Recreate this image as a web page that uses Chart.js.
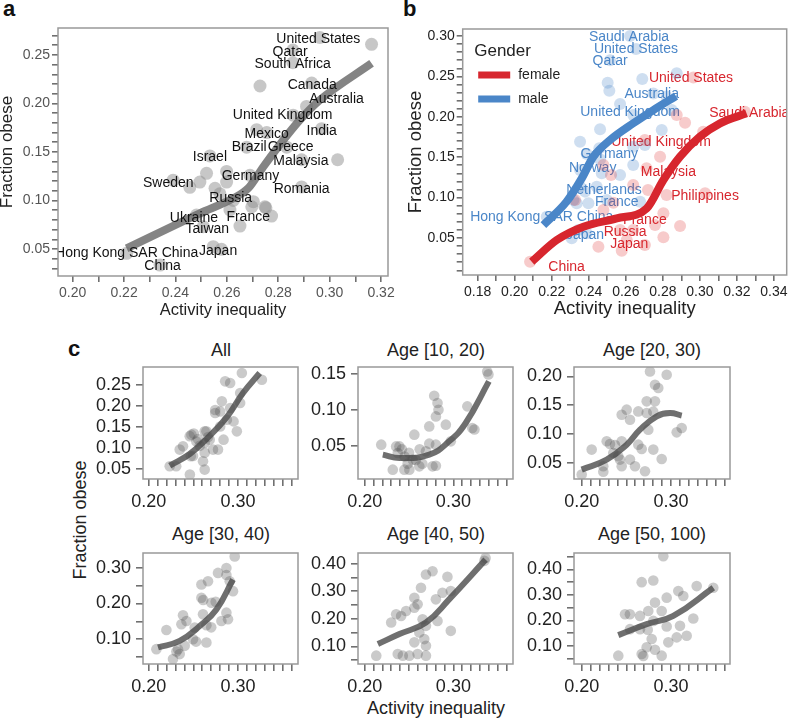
<!DOCTYPE html>
<html>
<head>
<meta charset="utf-8">
<script src="https://cdn.jsdelivr.net/npm/chart.js@4.4.1/dist/chart.umd.min.js"></script>
<style>
  body { margin: 0; width: 800px; height: 720px; position: relative; overflow: hidden; background: #fff;
         font-family: "Liberation Sans", Arial, Helvetica, sans-serif; color: #222; }
  .box { position: absolute; }
  .txt { position: absolute; white-space: nowrap; line-height: 18px; font-size: 18px; }
  .ctr { transform: translateX(-50%); }
  .tag { position: absolute; font-weight: bold; font-size: 22px; line-height: 22px; color: #111; }
</style>
</head>
<body>
<div class="tag" style="left:3px;top:-2px">a</div>
<div class="tag" style="left:403px;top:-2px">b</div>
<div class="tag" style="left:68px;top:338px">c</div>

<div class="txt ctr" style="left:221px;top:341px">All</div>
<div class="txt ctr" style="left:436px;top:341px">Age [10, 20)</div>
<div class="txt ctr" style="left:652px;top:341px">Age [20, 30)</div>
<div class="txt ctr" style="left:221px;top:525px">Age [30, 40)</div>
<div class="txt ctr" style="left:436px;top:525px">Age [40, 50)</div>
<div class="txt ctr" style="left:652px;top:525px">Age [50, 100)</div>
<div class="txt ctr" style="left:436px;top:699px">Activity inequality</div>
<div class="txt" style="left:80px;top:511px;transform:translateX(-50%) rotate(-90deg)">Fraction obese</div>

<script>
// ---- panel a: countries, overall ----
const aPoints = [[0.3163,0.261],[0.2962,0.268],[0.2857,0.255],[0.2857,0.242],[0.2729,0.218],[0.293,0.221],
  [0.291,0.197],[0.2858,0.188],[0.2969,0.174],[0.2716,0.173],[0.2755,0.170],[0.2833,0.155],[0.2677,0.155],
  [0.2891,0.142],[0.3031,0.142],[0.2534,0.146],[0.2521,0.128],[0.2599,0.130],[0.269,0.126],[0.2495,0.119],
  [0.2456,0.1136],[0.2391,0.121],[0.2554,0.1126],[0.2599,0.119],[0.2573,0.107],[0.2625,0.100],[0.2891,0.114],
  [0.2703,0.0988],[0.2697,0.0936],[0.2748,0.0936],[0.2752,0.0925],[0.2774,0.084],[0.2612,0.0902],[0.2482,0.085],
  [0.2651,0.0737],[0.2508,0.073],[0.2547,0.0524],[0.2579,0.0497],[0.221,0.0456],[0.234,0.0335]];
const aTrend = [[0.221,0.0507],[0.2495,0.0868],[0.2625,0.1023],[0.2683,0.1126],[0.2742,0.1348],[0.282,0.1624],
  [0.2884,0.183],[0.2962,0.2036],[0.3163,0.2414]];
const aNames = ["United States","Qatar","South Africa","Canada","Australia","United Kingdom","Mexico","India",
  "Brazil","Greece","Israel","Malaysia","Germany","Sweden","Romania","Russia","Ukraine","France","Taiwan",
  "Hong Kong SAR China","Japan","China"];
const aNameAt = [[0.2956,0.2665],[0.2846,0.2528],[0.2856,0.2404],[0.2932,0.2187],[0.3027,0.2049],[0.2817,0.1882],
  [0.2755,0.1685],[0.2969,0.1712],[0.2687,0.1554],[0.2848,0.1554],[0.2534,0.1443],[0.2888,0.1409],[0.2692,0.1248],
  [0.2372,0.1183],[0.2891,0.1117],[0.2615,0.1028],[0.2472,0.0822],[0.2683,0.0826],[0.2524,0.0704],[0.221,0.0456],
  [0.2566,0.0483],[0.235,0.0326]];

// ---- panel b: by gender ----
const bMale = [[0.2623,0.30],[0.2655,0.284],[0.2515,0.27],[0.2502,0.2422],[0.2511,0.2323],[0.2689,0.2468],
  [0.2875,0.2538],[0.2749,0.229],[0.282,0.225],[0.2569,0.2158],[0.2848,0.2084],[0.264,0.2022],[0.2461,0.1845],
  [0.2794,0.1837],[0.2353,0.1692],[0.2457,0.161],[0.264,0.163],[0.2703,0.165],[0.2389,0.154],[0.2461,0.1474],
  [0.264,0.1403],[0.2353,0.1342],[0.247,0.130],[0.2569,0.128],[0.2353,0.1135],[0.2443,0.1135],[0.2317,0.097],
  [0.2335,0.093],[0.2398,0.093],[0.2497,0.097],[0.2173,0.0764],[0.2344,0.06],[0.2308,0.0496],[0.2389,0.0558],
  [0.2677,0.095],[0.238,0.1074]];
const bFemale = [[0.2965,0.2488],[0.3243,0.2064],[0.292,0.1927],[0.3018,0.1816],[0.2703,0.1713],[0.2785,0.1507],
  [0.252,0.128],[0.2712,0.1362],[0.2479,0.1403],[0.264,0.1156],[0.272,0.1094],[0.282,0.1032],[0.3028,0.1053],
  [0.2533,0.0937],[0.2479,0.0847],[0.2803,0.0805],[0.2758,0.0661],[0.2893,0.0649],[0.2569,0.0599],[0.264,0.0599],
  [0.2803,0.0508],[0.2452,0.0393],[0.2578,0.0343],[0.2605,0.0475],[0.2703,0.0413],[0.2083,0.0207],[0.2326,0.097],
  [0.2875,0.2022]];
const bMaleTrend = [[0.2155,0.066],[0.228,0.095],[0.2362,0.1238],[0.2425,0.1507],[0.2515,0.1713],[0.264,0.192],
  [0.2749,0.2084],[0.2871,0.2257]];
const bFemaleTrend = [[0.2092,0.0207],[0.2227,0.0475],[0.2371,0.064],[0.2551,0.0743],[0.2713,0.0867],[0.2803,0.1218],
  [0.2893,0.1507],[0.30,0.1754],[0.3109,0.1919],[0.3252,0.2043]];
const bMaleNames = ["Saudi Arabia","United States","Qatar","Australia","United Kingdom","Germany","Norway",
  "Netherlands","France","Hong Kong SAR China","Japan"];
const bMaleNameAt = [[0.2617,0.2992],[0.2655,0.2839],[0.2515,0.2691],[0.274,0.2278],[0.2623,0.2064],[0.2511,0.154],
  [0.2421,0.137],[0.2482,0.1094],[0.2551,0.095],[0.2146,0.0752],[0.238,0.0537]];
const bFemaleNames = ["United States","Saudi Arabia","United Kingdom","Malaysia","Philippines","France","Russia",
  "Japan","China"];
const bFemaleNameAt = [[0.2952,0.2476],[0.3267,0.2043],[0.279,0.1692],[0.283,0.1313],[0.3028,0.102],[0.2703,0.0723],
  [0.2596,0.0578],[0.2619,0.0422],[0.228,0.0145]];
const genders = ["female","male"];

// ---- panel c: by age group ----
const allPoints = [[0.2235,0.0564],[0.2308,0.0564],[0.2478,0.1315],[0.2459,0.128],[0.2505,0.134],[0.2608,0.0682],
  [0.2471,0.0801],[0.2461,0.0367],[0.2646,0.1394],[0.2683,0.1197],[0.2776,0.096],[0.272,0.096],[0.2627,0.1118],
  [0.28,0.151],[0.2838,0.1197],[0.2744,0.183],[0.2819,0.2105],[0.2856,0.258],[0.2912,0.254],[0.295,0.163],
  [0.2987,0.1394],[0.2875,0.167],[0.2912,0.1948],[0.3024,0.2303],[0.3043,0.2777],[0.3267,0.2618],[0.3024,0.2066],
  [0.2627,0.0884],[0.2627,0.0486],[0.2384,0.1038],[0.2347,0.096],[0.2496,0.0809],[0.2627,0.1394],[0.28,0.1867],
  [0.2744,0.19],[0.2552,0.121],[0.2571,0.105],[0.2665,0.126],[0.2534,0.115]];
const allTrend = [[0.2235,0.058],[0.2459,0.0856],[0.2646,0.121],[0.287,0.172],[0.3056,0.2303],[0.3243,0.2777]];
const age10Points = [[0.3381,0.1532],[0.3395,0.149],[0.2784,0.1194],[0.2821,0.1093],[0.2832,0.10],[0.2803,0.0907],
  [0.256,0.0653],[0.2728,0.0768],[0.2915,0.0792],[0.2971,0.056],[0.3157,0.1046],[0.3213,0.0746],[0.3237,0.0725],
  [0.2803,0.0514],[0.2728,0.0528],[0.2691,0.0421],[0.2765,0.0213],[0.2803,0.0222],[0.2541,0.0306],[0.2616,0.0213],
  [0.2448,0.0167],[0.2504,0.0167],[0.2392,0.049],[0.2187,0.0514],[0.2355,0.049],[0.2317,0.0167],[0.2373,0.0399],
  [0.245,0.035],[0.25,0.04],[0.242,0.045],[0.2577,0.03],[0.262,0.045],[0.2485,0.025],[0.265,0.025]];
const age10Trend = [[0.2205,0.0375],[0.2392,0.0329],[0.2728,0.0375],[0.2952,0.056],[0.3139,0.0815],[0.34,0.1393]];
const age20Points = [[0.2765,0.2087],[0.2952,0.203],[0.2821,0.1856],[0.2858,0.18],[0.2728,0.1568],[0.2821,0.1568],
  [0.2504,0.1424],[0.2448,0.1337],[0.2541,0.125],[0.2634,0.1394],[0.2728,0.1366],[0.2802,0.139],[0.2746,0.1078],
  [0.3064,0.1031],[0.312,0.1107],[0.2112,0.0732],[0.228,0.0876],[0.2317,0.083],[0.2373,0.081],[0.2448,0.0876],
  [0.2634,0.0818],[0.2672,0.0744],[0.2802,0.0732],[0.2896,0.057],[0.2354,0.0674],[0.241,0.0616],[0.2429,0.0559],
  [0.2541,0.0559],[0.2448,0.0443],[0.2597,0.0443],[0.2709,0.0356],[0.2242,0.0443],[0.2242,0.035],[0.20,0.03]];
const age20Trend = [[0.20,0.0386],[0.228,0.0559],[0.2504,0.0818],[0.2653,0.1078],[0.284,0.1308],[0.2989,0.1366],
  [0.312,0.132]];
const age30Points = [[0.2963,0.3324],[0.287,0.30],[0.2776,0.286],[0.287,0.28],[0.2907,0.2626],[0.2944,0.2347],
  [0.2664,0.2626],[0.259,0.2534],[0.259,0.2162],[0.261,0.21],[0.2702,0.2022],[0.275,0.205],[0.2608,0.1696],
  [0.2384,0.1668],[0.2422,0.1508],[0.2366,0.1416],[0.2515,0.1324],[0.2646,0.1388],[0.27,0.133],[0.287,0.1743],
  [0.2888,0.1556],[0.2814,0.1508],[0.2198,0.1257],[0.2496,0.0997],[0.253,0.093],[0.2646,0.0905],[0.2403,0.081],
  [0.2328,0.0718],[0.2086,0.0718],[0.2272,0.0438],[0.2347,0.0578],[0.231,0.065]];
const age30Trend = [[0.2104,0.0765],[0.2347,0.095],[0.2571,0.1369],[0.2758,0.1835],[0.2944,0.2674]];
const age40Points = [[0.3363,0.4205],[0.335,0.41],[0.2765,0.3723],[0.2691,0.3604],[0.2933,0.352],[0.2635,0.3126],
  [0.2971,0.3004],[0.2877,0.2946],[0.2803,0.2705],[0.256,0.2766],[0.2597,0.2525],[0.256,0.24],[0.2467,0.2284],
  [0.2411,0.2104],[0.2821,0.1924],[0.2653,0.1986],[0.2691,0.1745],[0.2616,0.1507],[0.2672,0.1266],[0.256,0.1147],
  [0.2691,0.1025],[0.2971,0.1565],[0.2597,0.0727],[0.2504,0.0665],[0.243,0.0665],[0.2691,0.0665],[0.2131,0.0665],
  [0.2299,0.1867],[0.2355,0.2165],[0.2373,0.0727]];
const age40Trend = [[0.2149,0.1086],[0.2392,0.1446],[0.2691,0.1867],[0.2952,0.2705],[0.3363,0.4144]];
const age50Points = [[0.2914,0.452],[0.2672,0.3504],[0.2802,0.357],[0.3288,0.3348],[0.3082,0.3152],[0.3138,0.2957],
  [0.2952,0.2894],[0.3474,0.3285],[0.2821,0.27],[0.2746,0.2371],[0.2653,0.2176],[0.2485,0.2242],[0.254,0.2242],
  [0.2896,0.2371],[0.2802,0.198],[0.325,0.2074],[0.2952,0.1762],[0.3101,0.1785],[0.3176,0.1395],[0.3064,0.1332],
  [0.297,0.1137],[0.2541,0.1656],[0.2653,0.1656],[0.274,0.163],[0.2784,0.1266],[0.2728,0.0941],[0.2821,0.0848],
  [0.2672,0.068],[0.2896,0.0613],[0.241,0.0613],[0.269,0.06]];
const age50Trend = [[0.241,0.1422],[0.2728,0.1852],[0.3026,0.2176],[0.3474,0.3285]];

// labelled ticks
const aXLabels = [0.20,0.22,0.24,0.26,0.28,0.30,0.32];
const aYLabels = [0.05,0.10,0.15,0.20,0.25];
const bXLabels = [0.18,0.20,0.22,0.24,0.26,0.28,0.30,0.32,0.34];
const bYLabels = [0.05,0.10,0.15,0.20,0.25,0.30];
const cXLabels = [0.20,0.30];
const cYLabels = [
  [0.05,0.10,0.15,0.20,0.25],
  [0.05,0.10,0.15],
  [0.05,0.10,0.15,0.20],
  [0.10,0.20,0.30],
  [0.10,0.20,0.30,0.40],
  [0.10,0.20,0.30,0.40]
];

Chart.defaults.font.family = '"Liberation Sans", Arial, Helvetica, sans-serif';

const near = (v, list) => list.some(m => Math.abs(m - v) < 1e-6);
const steps = (a, b, s) => {
  const out = [];
  for (let v = a; v <= b + 1e-9; v += s) out.push(Math.round(v * 10000) / 10000);
  return out;
};
const xy = arr => arr.map(([x, y]) => ({ x, y }));

function drawLabels(chart, labels, font) {
  const { ctx, chartArea: a, scales: { x, y } } = chart;
  ctx.save();
  ctx.beginPath();
  ctx.rect(a.left, a.top, a.right - a.left, a.bottom - a.top);
  ctx.clip();
  ctx.font = font;
  ctx.textAlign = "center";
  ctx.textBaseline = "middle";
  labels.forEach(l => {
    ctx.fillStyle = l.color;
    ctx.fillText(l.text, x.getPixelForValue(l.x), y.getPixelForValue(l.y));
  });
  ctx.restore();
}

// frame and optional text labels
function decor(labels, font, under, extra) {
  return {
    id: "decor",
    beforeDatasetsDraw(chart) { if (under && labels.length) drawLabels(chart, labels, font); },
    afterDatasetsDraw(chart) { if (!under && labels.length) drawLabels(chart, labels, font); },
    afterDraw(chart) {
      const { ctx, chartArea: a } = chart;
      ctx.save();
      ctx.strokeStyle = "#999";
      ctx.lineWidth = 1.5;
      ctx.strokeRect(a.left, a.top, a.right - a.left, a.bottom - a.top);
      ctx.restore();
      if (extra) extra(chart);
    }
  };
}

// tick marks come from the library's own grid ticks (outside the plot only)
function axis(o) {
  return {
    type: "linear",
    min: o.min,
    max: o.max,
    afterBuildTicks: s => { s.ticks = o.ticks.map(v => ({ value: v })); },
    afterFit: o.fit,
    ticks: {
      autoSkip: false, maxRotation: 0, minRotation: 0, padding: o.pad,
      color: o.color, font: { size: o.size },
      callback: v => (near(v, o.labels) ? v.toFixed(2) : "")
    },
    grid: { display: true, drawOnChartArea: false, drawTicks: true, tickLength: o.tl,
            lineWidth: 1.6, color: "#707070", tickColor: "#707070", tickWidth: 1.6 },
    border: { display: false },
    title: o.title
      ? { display: true, text: o.title, color: "#222", font: { size: o.titleSize, lineHeight: o.titleLH },
          padding: { top: o.titlePad, bottom: o.titlePad } }
      : { display: false }
  };
}

// box: [left, top, width, height] of canvas; area: [left, top, right, bottom] inside it
function build(box, area, datasets, xo, yo, plugin) {
  const div = document.createElement("div");
  div.className = "box";
  div.style.left = box[0] + "px";
  div.style.top = box[1] + "px";
  const cv = document.createElement("canvas");
  cv.width = box[2];
  cv.height = box[3];
  div.appendChild(cv);
  document.body.appendChild(div);
  xo.fit = s => { s.height = box[3] - area[3]; };
  yo.fit = s => { s.width = area[0]; };
  new Chart(cv, {
    type: "scatter",
    data: { datasets },
    options: {
      responsive: false, animation: false, events: [],
      layout: { padding: { left: 0, top: area[1], right: box[2] - area[2], bottom: 0 } },
      plugins: { legend: { display: false }, tooltip: { enabled: false } },
      scales: { x: axis(xo), y: axis(yo) }
    },
    plugins: [plugin]
  });
}

const lineSet = (data, color, w, smooth) => Object.assign({
  data: xy(data), showLine: true, pointRadius: 0, borderColor: color, borderWidth: w,
  borderCapStyle: "butt", borderJoinStyle: "round", fill: false
}, smooth ? { tension: 0.45 } : { cubicInterpolationMode: "monotone" });
const dotSet = (data, color, r) => ({
  data: xy(data), showLine: false, pointRadius: r, pointBackgroundColor: color, pointBorderWidth: 0
});

// ---- panel a ----
build([0, 0, 400, 320], [58, 28, 388, 276],
  [lineSet(aTrend, "rgba(110,110,110,0.85)", 8), dotSet(aPoints, "rgba(144,144,144,0.5)", 6.5)],
  { min: 0.1943, max: 0.3227, ticks: steps(0.20, 0.32, 0.01), labels: aXLabels, size: 14, color: "#555",
    tl: 6, pad: 3, title: "Activity inequality", titleSize: 16.5, titleLH: 1.15, titlePad: 0 },
  { min: 0.0222, max: 0.2778, ticks: steps(0.03, 0.27, 0.01), labels: aYLabels, size: 14, color: "#555",
    tl: 6, pad: 2, title: "Fraction obese", titleSize: 17, titleLH: 0.9, titlePad: 0 },
  decor(aNames.map((t, i) => ({ text: t, x: aNameAt[i][0], y: aNameAt[i][1], color: "#111" })),
    '14px "Liberation Sans", Arial, sans-serif', false)
);

// ---- panel b ----
const RED = "#d7262e", BLUE = "#4a86c8";
const bLabels = bMaleNames.map((t, i) => ({ text: t, x: bMaleNameAt[i][0], y: bMaleNameAt[i][1], color: BLUE }))
  .concat(bFemaleNames.map((t, i) => ({ text: t, x: bFemaleNameAt[i][0], y: bFemaleNameAt[i][1], color: RED })));
function genderLegend(chart) {
  const { ctx, chartArea: a } = chart;
  const x0 = a.left + 11.5, y0 = a.top;
  ctx.save();
  ctx.fillStyle = "#222";
  ctx.textBaseline = "middle";
  ctx.textAlign = "left";
  ctx.font = '17px "Liberation Sans", Arial, sans-serif';
  ctx.fillText("Gender", x0, y0 + 22.5);
  ctx.font = '14px "Liberation Sans", Arial, sans-serif';
  [RED, BLUE].forEach((c, i) => {
    const yy = y0 + 46 + i * 24;
    ctx.strokeStyle = c;
    ctx.lineWidth = 7;
    ctx.beginPath();
    ctx.moveTo(x0 + 4, yy);
    ctx.lineTo(x0 + 36, yy);
    ctx.stroke();
    ctx.fillStyle = "#222";
    ctx.fillText(genders[i], x0 + 44, yy);
  });
  ctx.restore();
}
build([400, 0, 400, 320], [62.7, 29, 386.7, 275],
  [lineSet(bFemaleTrend, RED, 8), lineSet(bMaleTrend, BLUE, 8),
   dotSet(bFemale, "rgba(224,48,48,0.25)", 6), dotSet(bMale, "rgba(74,134,200,0.27)", 6)],
  { min: 0.1719, max: 0.3469, ticks: steps(0.18, 0.34, 0.01), labels: bXLabels, size: 14, color: "#222",
    tl: 6, pad: 3, title: "Activity inequality", titleSize: 18.5, titleLH: 1.2, titlePad: 0.4 },
  { min: 0.0042, max: 0.3087, ticks: steps(0.01, 0.30, 0.01), labels: bYLabels, size: 14, color: "#222",
    tl: 6, pad: 2, title: "Fraction obese", titleSize: 18.5, titleLH: 1.2, titlePad: 4.4 },
  decor(bLabels, '14px "Liberation Sans", Arial, sans-serif', true, genderLegend)
);

// ---- panel c ----
const cData = [
  [allPoints, allTrend], [age10Points, age10Trend], [age20Points, age20Trend],
  [age30Points, age30Trend], [age40Points, age40Trend], [age50Points, age50Trend]
];
const colL = [143.3, 358.3, 574], colR = [298.3, 514.3, 730];
const rowT = [367.3, 553.3], rowB = [479.3, 665];
const colXMin = [0.1936, 0.1925, 0.1914];
const cYRange = [[0.0263, 0.292], [0.0037, 0.1593], [0.0223, 0.2163], [0.030, 0.342], [0.0363, 0.4385], [0.0285, 0.465]];
const cYTicks = [
  cYLabels[0], cYLabels[1], cYLabels[2],
  steps(0.05, 0.30, 0.05), steps(0.05, 0.40, 0.05), steps(0.05, 0.45, 0.05)
];
cData.forEach(([pts, trend], i) => {
  const c = i % 3, r = Math.floor(i / 3);
  const w = colR[c] - colL[c], h = rowB[r] - rowT[r];
  build([colL[c] - 70, rowT[r] - 20, w + 76, h + 52], [70, 20, 70 + w, 20 + h],
    [lineSet(trend, "rgba(70,70,70,0.78)", 6, true), dotSet(pts, "rgba(80,80,80,0.3)", 5.3)],
    { min: colXMin[c], max: colXMin[c] + w / 893, ticks: steps(0.20, 0.36, 0.01), labels: cXLabels,
      size: 18, color: "#222", tl: 7, pad: 5 },
    { min: cYRange[i][0], max: cYRange[i][1], ticks: cYTicks[i], labels: cYLabels[i],
      size: 18, color: "#222", tl: 7, pad: 5 },
    decor([], "", false)
  );
});
</script>
</body>
</html>
